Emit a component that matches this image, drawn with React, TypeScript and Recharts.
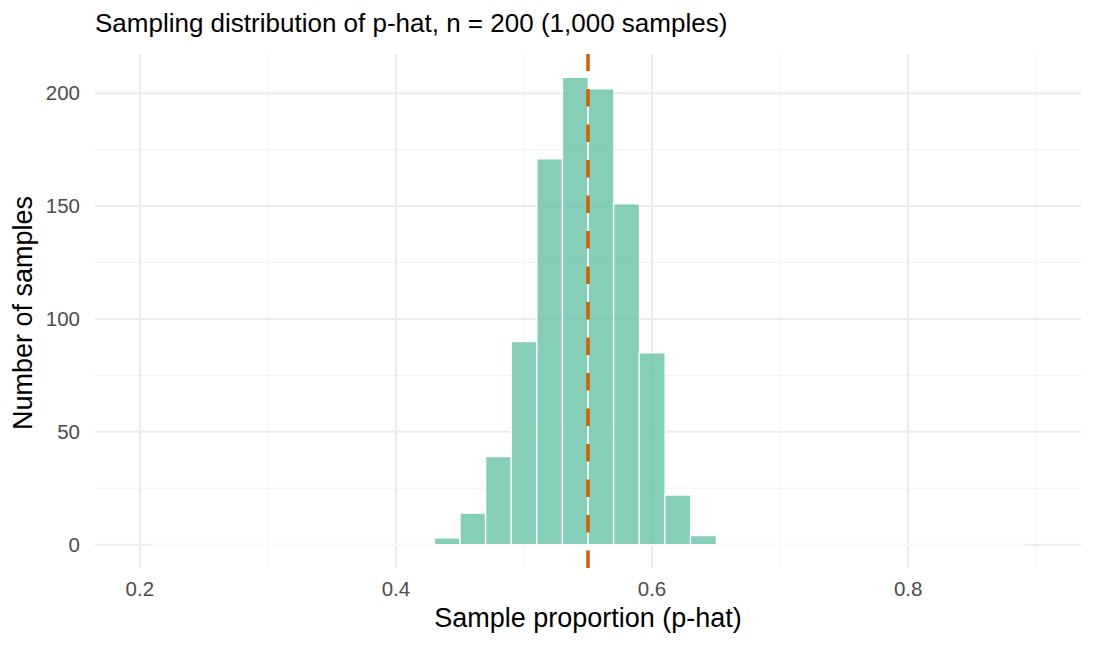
import type { JSX } from 'react';
import {
  Bar,
  CartesianGrid,
  ComposedChart,
  Label,
  ReferenceLine,
  XAxis,
  YAxis,
} from 'recharts';

// bin centres (width 0.02) from 0.22 to 0.88
const binCenters: number[] = [
  0.22, 0.24, 0.26, 0.28, 0.3, 0.32, 0.34, 0.36, 0.38, 0.4, 0.42, 0.44,
  0.46, 0.48, 0.5, 0.52, 0.54, 0.56, 0.58, 0.6, 0.62, 0.64, 0.66, 0.68,
  0.7, 0.72, 0.74, 0.76, 0.78, 0.8, 0.82, 0.84, 0.86, 0.88,
];
const binCounts: number[] = [
  0, 0, 0, 0, 0, 0, 0, 0, 0, 0, 0, 3,
  14, 39, 90, 171, 207, 202, 151, 85, 22, 4, 0, 0,
  0, 0, 0, 0, 0, 0, 0, 0, 0, 0,
];
const trueP = 0.55;

const xTicks = [0.2, 0.4, 0.6, 0.8];
const xMinor = [0.3, 0.5, 0.7, 0.9];
const yTicks = [0, 50, 100, 150, 200];
const yMinor = [25, 75, 125, 175];

const data = binCenters.map((p, i) => ({ p, count: binCounts[i] }));

const FONT = '"Liberation Sans", Arial, sans-serif';

// zero-count bins still get their white outline, like geom_histogram
function HistBar(props: any): JSX.Element {
  const { x, y, width, height } = props;
  const h = Math.max(height ?? 0, 0);
  const d = `M${x},${y + h} L${x},${y} L${x + width},${y} L${x + width},${y + h} Z`;
  return (
    <path
      d={d}
      fill="#66C2A5"
      fillOpacity={0.8}
      stroke="#ffffff"
      strokeWidth={1.5}
    />
  );
}

export default function App(): JSX.Element {
  return (
    <div
      style={{
        position: 'absolute',
        left: 0,
        top: 0,
        width: 1095,
        height: 645,
        background: '#fff',
        fontFamily: FONT,
      }}
    >
      <div
        style={{
          position: 'absolute',
          left: 95,
          top: 10,
          fontSize: 26,
          lineHeight: '26px',
          color: '#000',
          whiteSpace: 'nowrap',
        }}
      >
        Sampling distribution of p-hat, n = 200 (1,000 samples)
      </div>
      <ComposedChart
        width={1095}
        height={645}
        data={data}
        margin={{ top: 54, right: 14, bottom: 0, left: 0 }}
        barCategoryGap={0}
        barGap={0}
      >
        <CartesianGrid
          stroke="#F2F2F2"
          strokeWidth={1}
          horizontalValues={yMinor}
          verticalValues={xMinor}
        />
        <CartesianGrid
          stroke="#EBEBEB"
          strokeWidth={2}
          horizontalValues={yTicks}
          verticalValues={xTicks}
        />
        <XAxis
          dataKey="p"
          type="number"
          domain={[0.165, 0.935]}
          ticks={xTicks}
          allowDataOverflow
          axisLine={false}
          tickLine={false}
          tickSize={0}
          tickMargin={13}
          height={77}
          tick={{ fill: '#4D4D4D', fontSize: 20.5, fontFamily: FONT }}
        >
          <Label
            value="Sample proportion (p-hat)"
            position="insideBottom"
            offset={18}
            style={{ fill: '#000', fontSize: 27, fontFamily: FONT }}
          />
        </XAxis>
        <YAxis
          type="number"
          domain={[-10.35, 217.35]}
          ticks={yTicks}
          allowDataOverflow
          axisLine={false}
          tickLine={false}
          tickSize={0}
          tickMargin={15}
          width={95}
          tick={{ fill: '#4D4D4D', fontSize: 20.5, fontFamily: FONT }}
        >
          <Label
            content={() => (
              <text
                x={0}
                y={0}
                transform="translate(32,313) rotate(-90)"
                textAnchor="middle"
                fill="#000"
                fontSize={27}
                fontFamily={FONT}
              >
                Number of samples
              </text>
            )}
          />
        </YAxis>
        <Bar
          dataKey="count"
          shape={HistBar}
          isAnimationActive={false}
        />
        <ReferenceLine
          x={trueP}
          stroke="#D55E00"
          strokeWidth={3.5}
          strokeDasharray="17.5 18"
        />
      </ComposedChart>
    </div>
  );
}
